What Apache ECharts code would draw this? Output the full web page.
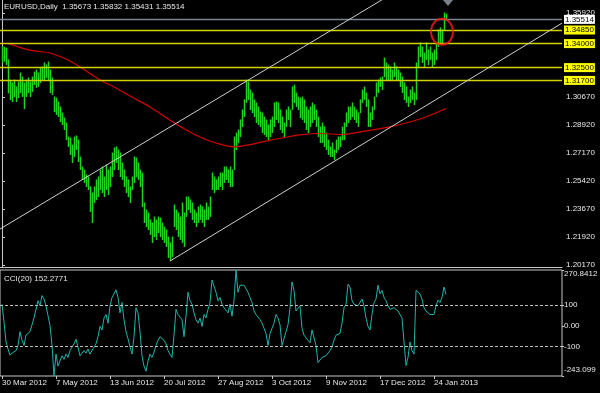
<!DOCTYPE html>
<html><head><meta charset="utf-8">
<script src="https://cdn.jsdelivr.net/npm/echarts@6.0.0/dist/echarts.min.js"></script>
<style>html,body{margin:0;padding:0;background:#000}#c{width:600px;height:393px}</style>
</head><body><div id="c"></div>
<script>
// ---------- data ----------
const symbolName = 'EURUSD,Daily';
const lastBar = [1.35673, 1.35832, 1.35431, 1.35514]; // O H L C
const dateLabels = ['30 Mar 2012','7 May 2012','13 Jun 2012','20 Jul 2012','27 Aug 2012','3 Oct 2012','9 Nov 2012','17 Dec 2012','24 Jan 2013'];
const dateLabelBars = [0,27,54,81,108,135,162,189,216];
const highs = [
1.3381,1.3377,1.3371,1.3298,1.3172,1.3154,1.3172,1.3129,1.3160,1.3216,
1.3191,1.3154,1.3172,1.3185,1.3160,1.3191,1.3222,1.3235,1.3216,1.3248,
1.3254,1.3279,1.3266,1.3285,1.3235,1.3185,1.3066,1.3060,1.3035,1.3004,
1.2966,1.2935,1.2904,1.2816,1.2810,1.2766,1.2816,1.2823,1.2797,1.2691,
1.2629,1.2610,1.2579,1.2566,1.2504,1.2466,1.2504,1.2548,1.2566,1.2610,
1.2629,1.2566,1.2641,1.2610,1.2629,1.2716,1.2748,1.2754,1.2735,1.2716,
1.2654,1.2610,1.2566,1.2548,1.2504,1.2566,1.2691,1.2685,1.2654,1.2610,
1.2591,1.2404,1.2360,1.2341,1.2298,1.2279,1.2316,1.2298,1.2316,1.2310,
1.2279,1.2254,1.2235,1.2191,1.2154,1.2191,1.2391,1.2360,1.2341,1.2316,
1.2404,1.2341,1.2441,1.2441,1.2423,1.2404,1.2360,1.2341,1.2379,1.2391,
1.2379,1.2360,1.2404,1.2379,1.2441,1.2591,1.2566,1.2548,1.2566,1.2591,
1.2591,1.2629,1.2629,1.2610,1.2629,1.2610,1.2816,1.2841,1.2860,1.2923,
1.2985,1.3048,1.3172,1.3160,1.3110,1.3091,1.3048,1.3029,1.3004,1.2973,
1.2966,1.2941,1.2923,1.2891,1.2923,1.2941,1.3029,1.3035,1.3029,1.2985,
1.2941,1.2904,1.2985,1.3004,1.2985,1.3129,1.3141,1.3091,1.3066,1.3060,
1.3066,1.3048,1.3004,1.2985,1.3004,1.3029,1.3016,1.2985,1.2941,1.2879,
1.2904,1.2879,1.2841,1.2797,1.2754,1.2779,1.2735,1.2797,1.2816,1.2816,
1.2879,1.2904,1.2966,1.3004,1.3004,1.3029,1.3004,1.2985,1.2966,1.3048,
1.3110,1.3129,1.3091,1.3048,1.2966,1.3004,1.3066,1.3154,1.3172,1.3185,
1.3191,1.3310,1.3279,1.3266,1.3254,1.3235,1.3279,1.3254,1.3235,1.3216,
1.3191,1.3154,1.3129,1.3066,1.3110,1.3129,1.3091,1.3279,1.3379,1.3404,
1.3379,1.3341,1.3404,1.3360,1.3379,1.3341,1.3360,1.3404,1.3485,1.3498,
1.3485,1.3591,1.35832];
const lows = [
1.3277,1.3287,1.3266,1.3089,1.3047,1.3035,1.3066,1.3035,1.3060,1.3091,
1.3066,1.2991,1.3066,1.3091,1.3066,1.3098,1.3141,1.3123,1.3129,1.3154,
1.3172,1.3172,1.3185,1.3172,1.3091,1.3079,1.2972,1.2954,1.2941,1.2910,
1.2891,1.2860,1.2797,1.2754,1.2704,1.2654,1.2691,1.2735,1.2660,1.2610,
1.2548,1.2529,1.2504,1.2485,1.2348,1.2279,1.2404,1.2423,1.2441,1.2485,
1.2466,1.2441,1.2485,1.2454,1.2504,1.2566,1.2610,1.2654,1.2610,1.2566,
1.2548,1.2504,1.2466,1.2441,1.2404,1.2485,1.2529,1.2566,1.2548,1.2504,
1.2379,1.2279,1.2254,1.2235,1.2204,1.2154,1.2191,1.2173,1.2216,1.2191,
1.2173,1.2154,1.2129,1.2060,1.2041,1.2066,1.2254,1.2235,1.2191,1.2173,
1.2154,1.2129,1.2316,1.2360,1.2341,1.2298,1.2279,1.2254,1.2279,1.2298,
1.2279,1.2254,1.2298,1.2298,1.2316,1.2485,1.2466,1.2485,1.2485,1.2504,
1.2485,1.2529,1.2548,1.2529,1.2504,1.2504,1.2610,1.2735,1.2779,1.2816,
1.2879,1.2941,1.3029,1.3048,1.2985,1.2966,1.2941,1.2904,1.2891,1.2879,
1.2841,1.2829,1.2816,1.2797,1.2816,1.2841,1.2879,1.2923,1.2904,1.2860,
1.2841,1.2816,1.2879,1.2923,1.2879,1.2985,1.3029,1.3004,1.2985,1.2935,
1.2923,1.2904,1.2860,1.2841,1.2879,1.2904,1.2923,1.2879,1.2816,1.2779,
1.2779,1.2754,1.2735,1.2704,1.2691,1.2691,1.2673,1.2716,1.2735,1.2754,
1.2797,1.2797,1.2879,1.2904,1.2923,1.2941,1.2923,1.2904,1.2879,1.2966,
1.3029,1.3048,1.3004,1.2879,1.2879,1.2923,1.2985,1.3066,1.3091,1.3129,
1.3110,1.3191,1.3172,1.3172,1.3172,1.3172,1.3191,1.3172,1.3172,1.3129,
1.3091,1.3048,1.3029,1.3004,1.3029,1.3048,1.3016,1.3048,1.3254,1.3316,
1.3279,1.3254,1.3298,1.3266,1.3298,1.3254,1.3266,1.3298,1.3379,1.3404,
1.3404,1.3485,1.35431];
const maBars   = [3,10,16,24,33,39,49,57,65,74,87,99,107,116,124,132,140,149,159,170,182,192,203,212,222];
const maValues = [1.3401,1.3372,1.3354,1.3341,1.3298,1.3254,1.3173,1.3123,1.3066,1.3004,1.2898,1.2816,1.2779,1.2754,1.2769,1.2791,1.2810,1.2829,1.2838,1.2832,1.2854,1.2875,1.2907,1.2941,1.2994];
const upperChannel = [[-1, 1.2241], [200, 1.3749]];
const lowerChannel = [[84, 1.2041], [280, 1.3528]];
const levelValues = [1.3485, 1.3400, 1.3250, 1.3170];
const bidPrice = 1.35514;
const priceTicks = [1.3592, 1.3067, 1.2892, 1.2717, 1.2542, 1.2367, 1.2192, 1.2017];
const cciPeriod = 20;
const cci = [
105,20,-78,-112,-142,-132,-128,-120,-95,-28,
-70,-95,-45,-37,-28,5,38,30,122,97,
147,130,97,88,2,-95,-243.099,-137,-195,-170,
-145,-162,-137,-153,-120,-103,-87,-65,-103,-145,
-132,-120,-132,-112,-137,-132,-103,-87,-53,-3,
-20,38,55,13,97,138,155,175,138,63,
113,30,-28,-62,-103,-137,-53,88,63,-28,
-145,-195,-220,-170,-137,-153,-128,-95,-70,-53,
-53,-70,-87,-120,-137,-153,-45,80,55,63,
30,-53,47,163,122,105,63,30,13,38,
-3,55,38,80,113,222,213,163,122,138,
105,88,97,63,105,47,122,270.8412,163,197,
188,197,192,163,138,113,72,55,47,30,
13,-12,-37,-95,-37,-28,13,55,38,5,
-95,-95,-28,5,88,213,172,72,63,97,
-12,-45,-53,-70,-82,-20,-28,-95,-178,-170,
-153,-148,-145,-132,-120,-103,-70,-45,-53,-37,
13,88,105,202,188,122,105,97,97,105,
130,97,38,-3,-20,55,113,130,197,155,
172,138,122,97,80,80,88,97,72,63,
38,30,-192,-153,-78,-120,-137,172,172,155,
130,88,72,63,55,47,55,97,125,113,
138,188,152.2771];
const cciLevels = [100, -100];
const cciTicks = [270.8412, 100, 0, -100, -243.099];
const cciTickText = ['270.8412', '100', '0.00', '-100', '-243.099'];
const circleAt = [220, 1.3474];
const shiftBar = 223;

// ---------- layout / styling ----------
const priceMin = 1.20038, priceMax = 1.36725;
const barMin = -1, barMax = 280;
const FONT = 'Liberation Sans, Arial, sans-serif';
const TXT = '#e8e8e8';
const BORDER = '#c8c8c8';

const barData = highs.map((h, i) => [i, lows[i], h]);
const maData = maBars.map((b, i) => [b, maValues[i]]);
const cciData = cci.map((v, i) => [i, v]);

const levelLabel = (bg) => ({show: true, position: 'end', distance: 2,
  formatter: p => Number(p.value).toFixed(5),
  color: '#000', backgroundColor: bg, fontSize: 8, fontFamily: FONT,
  lineHeight: 9, padding: [0, 1, 0, 1]});

const chart = echarts.init(document.getElementById('c'), null, {renderer: 'canvas'});
chart.setOption({
  backgroundColor: '#000000',
  animation: false,
  title: [
    {text: symbolName + '  ' + lastBar.map(v => v.toFixed(5)).join(' '), left: 4, top: 3, padding: 0,
     textStyle: {color: TXT, fontSize: 8, fontWeight: 'normal', fontFamily: FONT}},
    {text: 'CCI(' + cciPeriod + ') ' + cci[cci.length - 1].toFixed(4), left: 4, top: 275, padding: 0,
     textStyle: {color: TXT, fontSize: 8, fontWeight: 'normal', fontFamily: FONT}}
  ],
  grid: [
    {left: 0, top: 0, width: 562, height: 267, show: false, outerBoundsMode: 'none', containLabel: false},
    {left: 0, top: 270, width: 562, height: 106, show: true, borderColor: BORDER, borderWidth: 1,
     backgroundColor: 'transparent', outerBoundsMode: 'none', containLabel: false}
  ],
  xAxis: [
    {type: 'value', gridIndex: 0, min: barMin, max: barMax,
     axisLine: {show: true, onZero: false, lineStyle: {color: BORDER, width: 1}},
     axisTick: {show: false}, axisLabel: {show: false}, splitLine: {show: false}},
    {type: 'value', gridIndex: 1, min: barMin, max: barMax,
     axisLine: {show: false, onZero: false},
     axisTick: {show: true, customValues: dateLabelBars, length: 3, lineStyle: {color: BORDER}},
     axisLabel: {show: true, customValues: dateLabelBars, align: 'left', margin: 3,
       color: TXT, fontSize: 8, fontFamily: FONT,
       formatter: v => dateLabels[dateLabelBars.indexOf(Math.round(v))] || ''},
     splitLine: {show: false}}
  ],
  yAxis: [
    {type: 'value', gridIndex: 0, position: 'right', min: priceMin, max: priceMax, scale: true,
     axisLine: {show: true, lineStyle: {color: BORDER, width: 1}},
     axisTick: {show: true, customValues: priceTicks, length: 3, lineStyle: {color: BORDER}},
     axisLabel: {show: true, customValues: priceTicks, margin: 4, color: TXT, fontSize: 8, fontFamily: FONT,
       hideOverlap: false, formatter: v => v.toFixed(5)},
     splitLine: {show: false}},
    {type: 'value', gridIndex: 1, position: 'right', min: -243.099, max: 270.8412,
     axisLine: {show: false, onZero: false},
     axisTick: {show: true, customValues: cciTicks, length: 2, lineStyle: {color: BORDER}},
     axisLabel: {show: true, customValues: cciTicks, margin: 2, color: TXT, fontSize: 8, fontFamily: FONT,
       formatter: v => {
         const k = cciTicks.findIndex(t => Math.abs(t - v) < 1e-6);
         const s = k >= 0 ? cciTickText[k] : '';
         if (k === 0) return '{t|' + s + '}';
         if (k === cciTicks.length - 1) return '{b|' + s + '}';
         return s;
       },
       rich: {t: {padding: [8, 0, 0, 0], color: TXT, fontSize: 8, fontFamily: FONT},
              b: {padding: [0, 0, 13, 0], color: TXT, fontSize: 8, fontFamily: FONT}}},
     splitLine: {show: false}}
  ],
  series: [
    {type: 'custom', name: 'bars', xAxisIndex: 0, yAxisIndex: 0, data: barData,
     encode: {x: 0, y: [1, 2]}, clip: true, z: 3,
     renderItem: (params, api) => {
       const lo = api.coord([api.value(0), api.value(1)]);
       const hi = api.coord([api.value(0), api.value(2)]);
       const x = Math.round(lo[0]) + 0.5;
       return {type: 'line', shape: {x1: x, y1: lo[1], x2: x, y2: hi[1] - 0.5},
               style: {stroke: '#1ed41e', lineWidth: 1.5}};
     }},
    {type: 'line', name: 'MA', xAxisIndex: 0, yAxisIndex: 0, data: maData, smooth: 0.3,
     showSymbol: false, symbol: 'none', z: 4, lineStyle: {color: '#d40000', width: 1.2},
     markLine: {silent: true, symbol: 'none', animation: false, precision: 5,
       data: levelValues.map(v => ({yAxis: v,
           lineStyle: {color: '#d2d200', width: 1.3, type: 'solid'},
           label: levelLabel('#ffff00')}))
         .concat([{yAxis: bidPrice,
           lineStyle: {color: '#7c8492', width: 1.3, type: 'solid'},
           label: levelLabel('#ffffff')}])}},
    {type: 'line', name: 'upper', xAxisIndex: 0, yAxisIndex: 0, data: upperChannel, clip: true,
     showSymbol: false, symbol: 'none', z: 5, lineStyle: {color: '#cfcfcf', width: 1}},
    {type: 'line', name: 'lower', xAxisIndex: 0, yAxisIndex: 0, data: lowerChannel, clip: true,
     showSymbol: false, symbol: 'none', z: 5, lineStyle: {color: '#cfcfcf', width: 1}},
    {type: 'scatter', name: 'circle', xAxisIndex: 0, yAxisIndex: 0, data: [circleAt], z: 6,
     symbol: 'circle', symbolSize: [22, 26],
     itemStyle: {color: 'rgba(0,0,0,0)', borderColor: '#ff1a1a', borderWidth: 2}},
    {type: 'scatter', name: 'shift', xAxisIndex: 0, yAxisIndex: 0, data: [[shiftBar, priceMax]], z: 6,
     clip: false, symbol: 'triangle', symbolRotate: 180, symbolSize: [10, 6], symbolOffset: [0, 3],
     itemStyle: {color: '#9aa0aa'}},
    {type: 'line', name: 'CCI', xAxisIndex: 1, yAxisIndex: 1, data: cciData, z: 4,
     showSymbol: false, symbol: 'none', lineStyle: {color: '#20b2aa', width: 1},
     markLine: {silent: true, symbol: 'none', animation: false, label: {show: false},
       lineStyle: {color: '#bdbdbd', width: 1, type: [3, 2]},
       data: cciLevels.map(v => ({yAxis: v}))}}
  ]
});
</script></body></html>
